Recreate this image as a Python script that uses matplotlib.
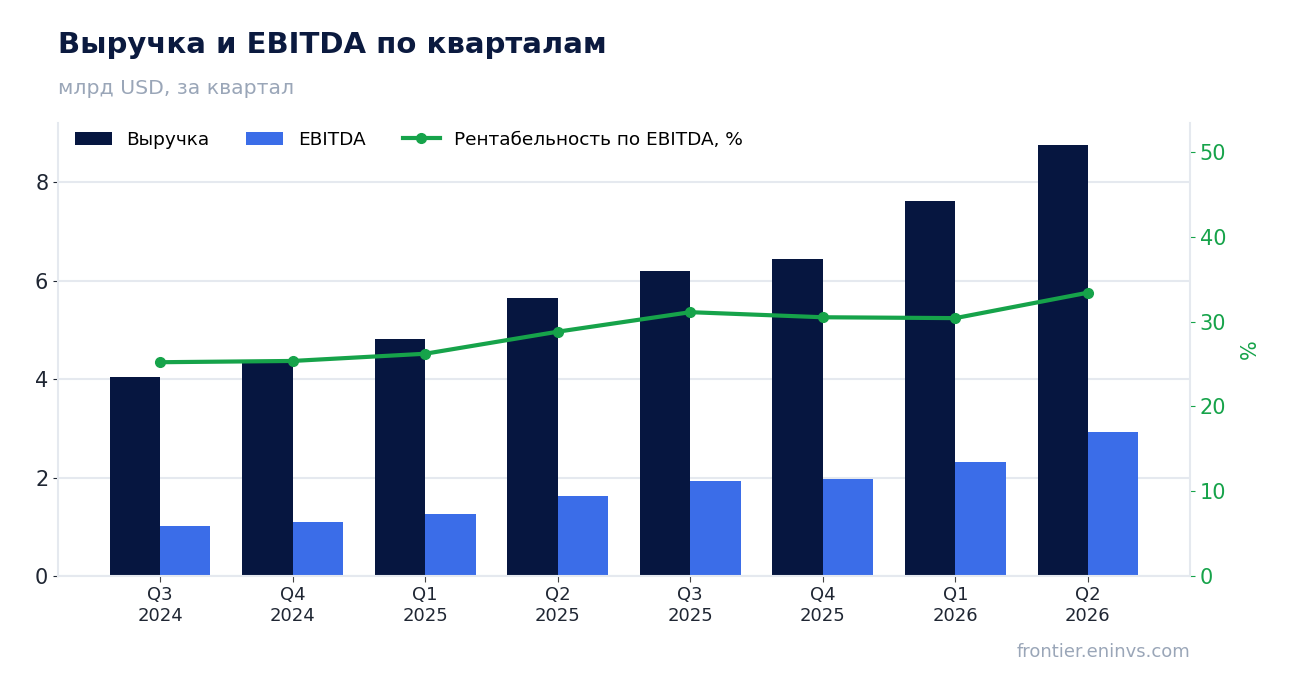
import numpy as np
import matplotlib.pyplot as plt

plt.rcParams['font.family'] = ['DejaVu Sans']

quarters = ["Q3\n2024", "Q4\n2024", "Q1\n2025", "Q2\n2025",
            "Q3\n2025", "Q4\n2025", "Q1\n2026", "Q2\n2026"]
revenue = [4.04, 4.35, 4.81, 5.64, 6.19, 6.44, 7.61, 8.75]
ebitda = [1.02, 1.10, 1.26, 1.62, 1.93, 1.97, 2.31, 2.92]
margin = [25.2, 25.35, 26.2, 28.8, 31.1, 30.5, 30.4, 33.4]

c_rev = '#061640'
c_ebitda = '#3b6de8'
c_margin = '#16a34a'
c_grid = '#e5e9ef'
c_text = '#1f2633'

fig = plt.figure(figsize=(12.89, 6.93), dpi=100)
ax1 = fig.add_axes([58 / 1289, 1 - 576 / 693, (1190 - 58) / 1289, (576 - 123) / 693])

x = np.arange(len(quarters))
w = 0.38
b1 = ax1.bar(x - w / 2, revenue, w, color=c_rev, label='Выручка', zorder=2)
b2 = ax1.bar(x + w / 2, ebitda, w, color=c_ebitda, label='EBITDA', zorder=2)

ax1.set_xlim(-0.77, 7.77)
ax1.set_ylim(0, 9.2)
ax1.set_yticks([0, 2, 4, 6, 8])
ax1.set_xticks(x)
ax1.set_xticklabels(quarters, fontsize=13, color=c_text)
ax1.tick_params(axis='y', labelsize=15, colors=c_text)
ax1.tick_params(axis='x', length=4, color='#444444')
ax1.grid(axis='y', color=c_grid, linewidth=1.5, zorder=0)
ax1.set_axisbelow(True)
for s in ['top', 'right']:
    ax1.spines[s].set_visible(False)
for s in ['left', 'bottom']:
    ax1.spines[s].set_color(c_grid)
    ax1.spines[s].set_linewidth(1.5)

ax2 = ax1.twinx()
line = ax2.plot(x, margin, color=c_margin, marker='o', linewidth=3, markersize=7,
                label='Рентабельность по EBITDA, %', zorder=3)
ax2.set_ylim(0, 53.4)
ax2.set_yticks([0, 10, 20, 30, 40, 50])
ax2.tick_params(axis='y', labelsize=15, colors=c_margin)
ax2.set_ylabel('%', color=c_margin, fontsize=15, labelpad=10)
for s in ['top', 'left', 'bottom']:
    ax2.spines[s].set_visible(False)
ax2.spines['right'].set_color(c_grid)
ax2.spines['right'].set_linewidth(1.5)

handles = [b1, b2] + line
ax1.legend(handles, [h.get_label() for h in handles], loc='upper left',
           ncol=3, frameon=False, fontsize=13.3, bbox_to_anchor=(0.0, 1.02),
           handlelength=2.0, columnspacing=2.0)

fig.text(58 / 1289, 1 - 45 / 693, 'Выручка и EBITDA по кварталам', fontsize=21,
         fontweight='bold', color='#0b1a3f', va='center')
fig.text(58 / 1289, 1 - 88 / 693, 'млрд USD, за квартал', fontsize=14.7,
         color='#9aa6b8', va='center')
fig.text(1190 / 1289, 1 - 652 / 693, 'frontier.eninvs.com', fontsize=13,
         color='#9aa6b8', ha='right', va='center')

fig.savefig('out.png', dpi=100)
